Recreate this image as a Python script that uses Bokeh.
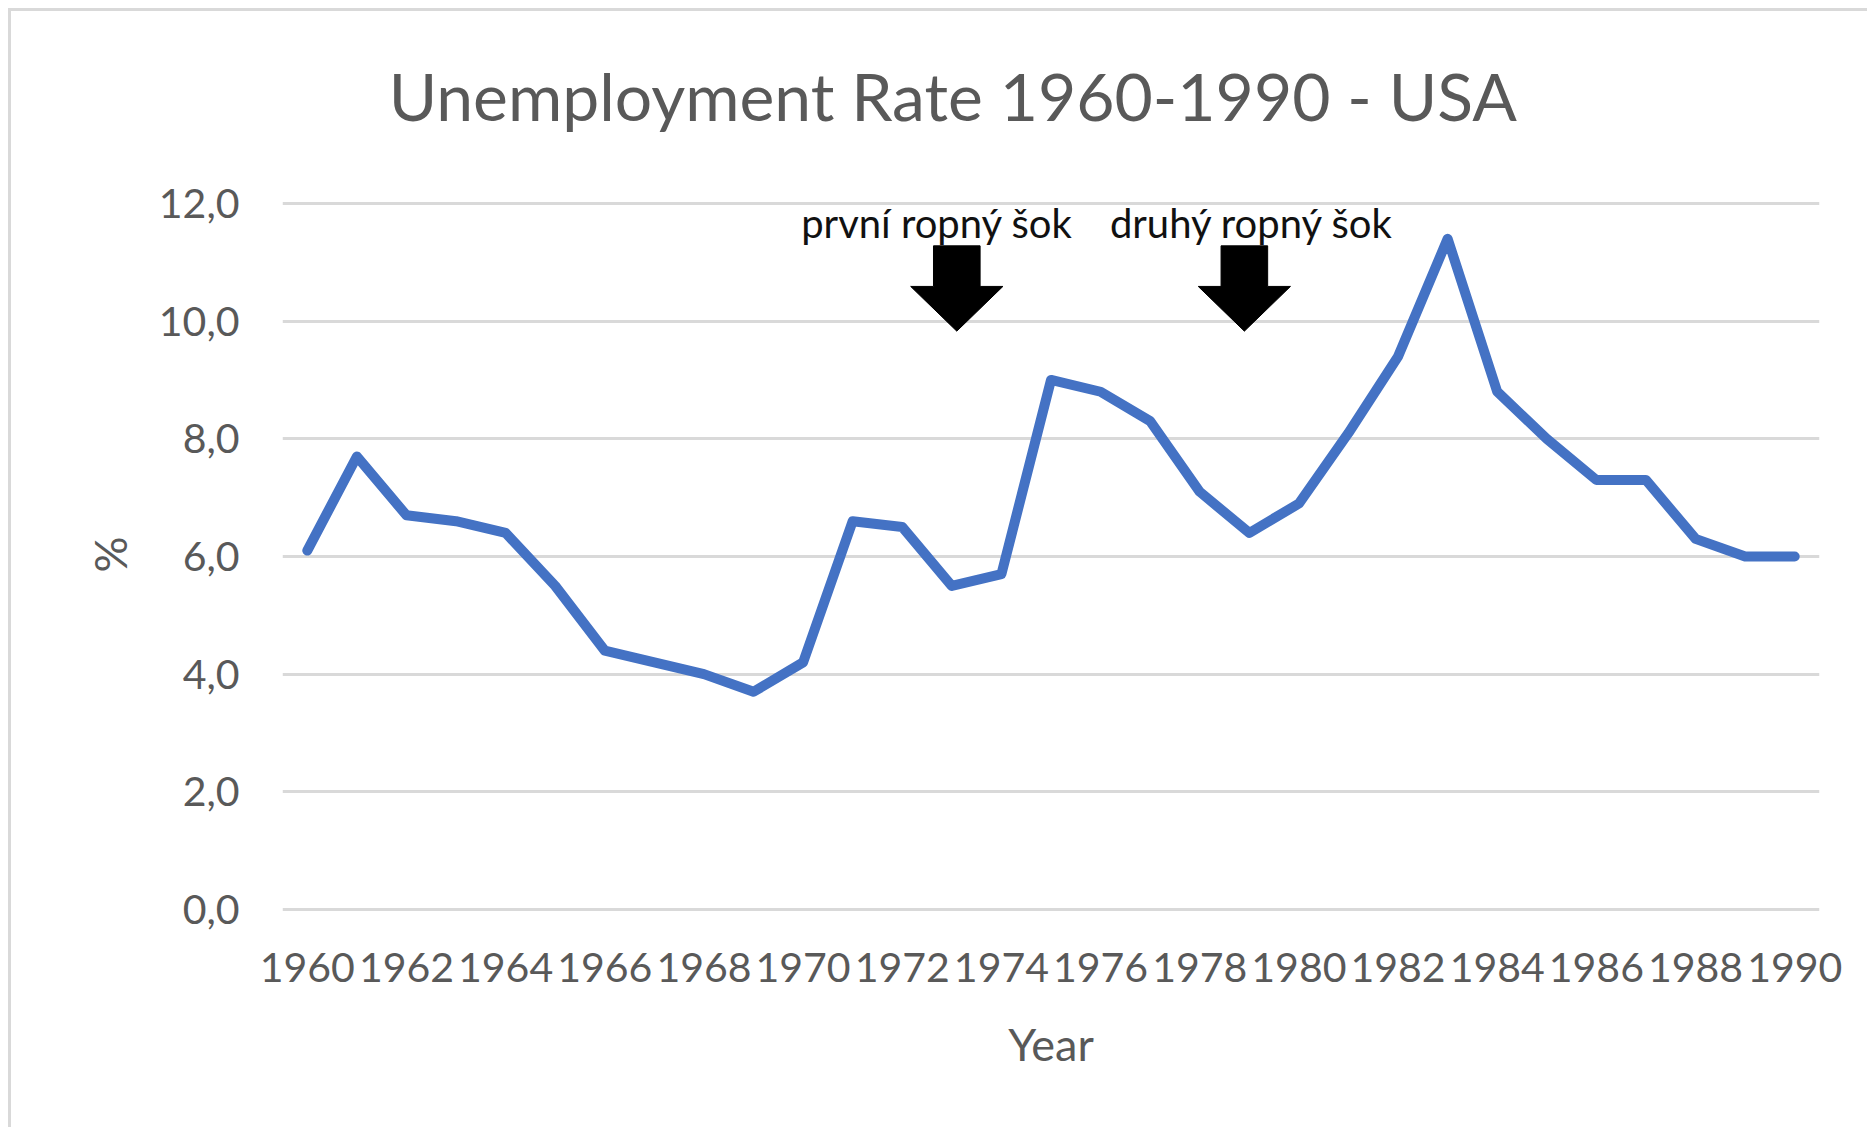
from bokeh.plotting import figure
from bokeh.models import Range1d, FixedTicker, ColumnDataSource, Title
from bokeh.core.properties import value
from bokeh.embed import file_html
from bokeh.resources import INLINE

# ---- data ----
years = list(range(1960, 1991))
unemployment = [6.1, 7.7, 6.7, 6.6, 6.4, 5.5, 4.4, 4.2, 4.0, 3.7,
                4.2, 6.6, 6.5, 5.5, 5.7, 9.0, 8.8, 8.3, 7.1, 6.4,
                6.9, 8.1, 9.4, 11.4, 8.8, 8.0, 7.3, 7.3, 6.3, 6.0, 6.0]
x_tick_years = list(range(1960, 1991, 2))
x_tick_labels = [str(y) for y in x_tick_years]
y_ticks = [0, 2, 4, 6, 8, 10, 12]
y_tick_labels = ["0,0", "2,0", "4,0", "6,0", "8,0", "10,0", "12,0"]
shock_labels = ["první ropný šok", "druhý ropný šok"]
shock_label_x = [1972.7, 1979.05]
shock_arrow_x = [1973.1, 1978.9]
title_text = "Unemployment  Rate 1960-1990 - USA"

FONT = "Lato"
GREY = "#595959"

p = figure(width=1859, height=1119, output_backend="svg", toolbar_location=None,
           x_range=Range1d(1959.5, 1990.5), y_range=Range1d(-0.051, 14.77),
           min_border_left=271, min_border_right=51, min_border_top=29,
           min_border_bottom=218)
p.margin = (8, 0, 0, 8)
p.styles = {"border-left": "3px solid #d9d9d9", "border-top": "3px solid #d9d9d9"}
p.outline_line_color = None
p.background_fill_color = "white"
p.border_fill_color = "white"

# grid
p.xgrid.visible = False
p.ygrid.ticker = FixedTicker(ticks=y_ticks)
p.ygrid.grid_line_color = "#d9d9d9"
p.ygrid.grid_line_width = 3

# axes
p.xaxis.ticker = FixedTicker(ticks=x_tick_years)
p.xaxis.major_label_overrides = dict(zip(x_tick_years, x_tick_labels))
p.yaxis.ticker = FixedTicker(ticks=y_ticks)
p.yaxis.major_label_overrides = dict(zip(y_ticks, y_tick_labels))
for ax in (p.xaxis[0], p.yaxis[0]):
    ax.axis_line_color = None
    ax.major_tick_line_color = None
    ax.minor_tick_line_color = None
    ax.major_label_text_font = FONT
    ax.major_label_text_font_size = "41px"
    ax.major_label_text_color = GREY
    ax.axis_label_text_font = FONT
    ax.axis_label_text_font_style = "normal"
    ax.axis_label_text_color = GREY
    ax.axis_label_text_font_size = "45px"
p.xaxis.axis_label = "Year"
p.xaxis.major_label_standoff = 34
p.xaxis.axis_label_standoff = 32
p.yaxis.major_label_standoff = 37

# y-axis title, placed next to the 0-12 part of the axis
p.add_layout(Title(text="%", align="left", offset=340, vertical_align="bottom",
                   standoff=38, text_font=FONT, text_font_size="45px",
                   text_font_style="normal", text_color=GREY), "left")

# line
src = ColumnDataSource(dict(x=years, y=unemployment))
p.line("x", "y", source=src, line_color="#4472C4", line_width=10,
       line_join="round", line_cap="round")

# arrows
tip_y, base_y, top_y = 9.83, 10.59, 11.28
head_half, shaft_half = 0.93, 0.47
xs, ys = [], []
for ax_ in shock_arrow_x:
    xs.append([ax_ - shaft_half, ax_ + shaft_half, ax_ + shaft_half, ax_ + head_half,
               ax_, ax_ - head_half, ax_ - shaft_half])
    ys.append([top_y, top_y, base_y, base_y, tip_y, base_y, base_y])

p.text(x=shock_label_x, y=[11.66, 11.66], text=shock_labels,
       text_font=value(FONT), text_font_size="40px", text_color="#111111",
       text_align="center", text_baseline="alphabetic")
p.patches(xs, ys, fill_color="black", line_color="black", line_width=1)

# chart title (drawn inside the extended, invisible upper part of the frame)
p.text(x=[1973.19], y=[13.83], text=[title_text], text_font=value(FONT),
       text_font_size="66px", text_color=GREY, text_align="center",
       text_baseline="alphabetic")

open("out.html", "w").write(file_html(p, INLINE))
